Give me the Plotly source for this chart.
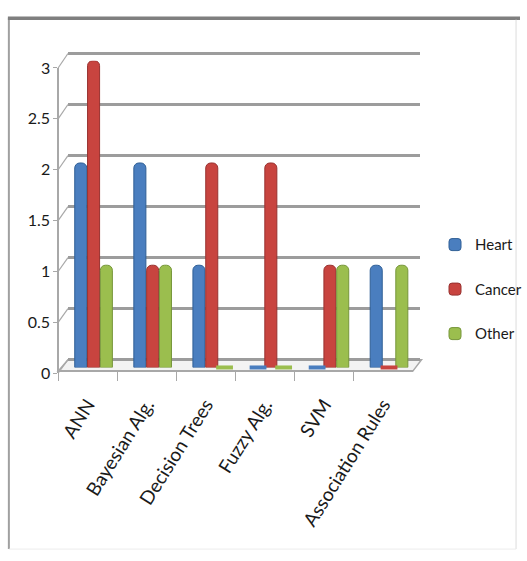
import plotly.graph_objects as go

# Data
categories = ["ANN", "Bayesian Alg.", "Decision Trees", "Fuzzy Alg.", "SVM", "Association Rules"]
heart = [2, 2, 1, 0, 0, 1]
cancer = [3, 1, 2, 2, 1, 0]
other = [1, 1, 0, 0, 1, 1]
series_names = ["Heart", "Cancer", "Other"]
y_ticks = [0, 0.5, 1, 1.5, 2, 2.5, 3]
y_tick_text = ["0", "0.5", "1", "1.5", "2", "2.5", "3"]

W, H = 527, 561
colors = ["#4a7ebf", "#c8443f", "#9bbe4e"]
edge_colors = ["#2f5f96", "#983230", "#76963a"]
FONT = "Lato, sans-serif"

BARGAP = 0.35
BARGROUPGAP = 0.06
YMAX = 3


def fx(px):
    return px / W


def fy(py):
    return 1 - py / H


def value_axis(y0_px, ytop_px, pad=0.0):
    """Domain and range for a value axis whose 0 and YMAX sit at the given pixel rows."""
    per = (y0_px - ytop_px) / YMAX
    return dict(domain=[fy(y0_px + pad * per), fy(ytop_px - pad * per)],
                range=[-pad, YMAX + pad])


# pixel layout of the three layers: front label axis, back wall grid, cylinders
LBL_X, LBL_Y0, LBL_Y3 = 58, 376, 60
GRID_X0, GRID_X1, GRID_Y0, GRID_Y3 = 68, 425, 362, 45
BAR_X0, BAR_X1, BAR_Y0, BAR_Y3 = 64, 424, 370, 52.5
CAT_X1 = 418
AXIS_Y = 374

fig = go.Figure()

# front axis subplot (category and value labels)
fig.add_trace(go.Scatter(x=categories, y=[0] * len(categories), mode="markers",
                         marker=dict(opacity=0), hoverinfo="skip", showlegend=False,
                         xaxis="x", yaxis="y"))
# back wall subplot (grid lines)
fig.add_trace(go.Scatter(x=[0, 1], y=[0, 0], mode="markers", marker=dict(opacity=0),
                         hoverinfo="skip", showlegend=False, xaxis="x2", yaxis="y2"))

# cylinders
xs = list(range(len(categories)))
slot = (1 - BARGAP) / 3
for k, (name, vals) in enumerate(zip(series_names, [heart, cancer, other])):
    fig.add_trace(go.Bar(
        x=xs, y=vals, name=name, legendgroup=name,
        marker=dict(color=colors[k], line=dict(color=edge_colors[k], width=1),
                    cornerradius=5),
        xaxis="x3", yaxis="y3",
    ))
    # flat discs for zero-height series
    zx = [i + (k - 1) * slot for i, v in zip(xs, vals) if v == 0]
    zy = [v for v in vals if v == 0]
    if zx:
        fig.add_trace(go.Scatter(
            x=zx, y=zy, mode="markers", showlegend=False, hoverinfo="skip",
            marker=dict(symbol="line-ew", size=12, line=dict(color=colors[k], width=4)),
            xaxis="x3", yaxis="y3", cliponaxis=False,
        ))

shapes = []
# floor
shapes.append(dict(type="path", xref="paper", yref="paper", layer="below",
                   path=f"M{fx(LBL_X)},{fy(AXIS_Y)} L{fx(CAT_X1)},{fy(AXIS_Y)} "
                        f"L{fx(GRID_X1 + 2)},{fy(GRID_Y0)} L{fx(GRID_X0)},{fy(GRID_Y0)} Z",
                   fillcolor="#f3f3f3", line=dict(color="#a8a8a8", width=1.5)))
# slanted connectors from front ticks to the back wall
for v in y_ticks:
    ly = LBL_Y0 + (LBL_Y3 - LBL_Y0) * v / YMAX
    gy = GRID_Y0 + (GRID_Y3 - GRID_Y0) * v / YMAX
    shapes.append(dict(type="line", xref="paper", yref="paper",
                       x0=fx(LBL_X), y0=fy(ly), x1=fx(GRID_X0), y1=fy(gy),
                       line=dict(color="#a8a8a8", width=1.2)))
# outer frame
shapes.append(dict(type="line", xref="paper", yref="paper", x0=fx(8), x1=fx(8),
                   y0=fy(8), y1=fy(558), line=dict(color="#a0a0a0", width=2)))
shapes.append(dict(type="line", xref="paper", yref="paper", x0=fx(7), x1=1,
                   y0=fy(8.5), y1=fy(8.5), line=dict(color="#7f7f7f", width=3.5)))
shapes.append(dict(type="line", xref="paper", yref="paper", x0=fx(523), x1=fx(523),
                   y0=fy(10), y1=fy(558), line=dict(color="#dcdcdc", width=1)))
shapes.append(dict(type="line", xref="paper", yref="paper", x0=fx(8), x1=fx(523),
                   y0=fy(558), y1=fy(558), line=dict(color="#ececec", width=1)))

label_axis = value_axis(LBL_Y0, LBL_Y3)
grid_axis = value_axis(GRID_Y0, GRID_Y3, pad=0.03)
bar_axis = value_axis(BAR_Y0, BAR_Y3)

fig.update_layout(
    width=W, height=H, autosize=False,
    margin=dict(l=0, r=0, t=0, b=0, pad=0),
    paper_bgcolor="white", plot_bgcolor="rgba(0,0,0,0)",
    barmode="group", bargap=BARGAP, bargroupgap=BARGROUPGAP,
    shapes=shapes,
    showlegend=True,
    legend=dict(x=fx(441), y=fy(226), xanchor="left", yanchor="top",
                font=dict(family=FONT, size=15, color="#1a1a1a"),
                tracegroupgap=22, itemwidth=30, bgcolor="rgba(0,0,0,0)"),
    xaxis=dict(domain=[fx(LBL_X), fx(CAT_X1)], type="category",
               categoryorder="array", categoryarray=categories,
               range=[-0.5, len(categories) - 0.5],
               anchor="free", position=fy(AXIS_Y),
               showline=True, linecolor="#a8a8a8", linewidth=1.5,
               ticks="outside", tickson="boundaries", ticklen=9, tickcolor="#a8a8a8",
               tickwidth=1.2, tickangle=-58, ticklabelstandoff=14,
               tickfont=dict(family=FONT, size=19, color="#1a1a1a"), showgrid=False,
               zeroline=False, fixedrange=True),
    yaxis=dict(**label_axis, tickvals=y_ticks, ticktext=y_tick_text,
               anchor="free", position=fx(LBL_X),
               showline=True, linecolor="#a8a8a8", linewidth=1.5,
               ticks="outside", ticklen=4, tickcolor="#a8a8a8",
               tickfont=dict(family=FONT, size=16, color="#1a1a1a"),
               showgrid=False, zeroline=False, fixedrange=True),
    xaxis2=dict(domain=[fx(GRID_X0), fx(GRID_X1)], range=[0, 1], anchor="y2",
                visible=False, fixedrange=True),
    yaxis2=dict(**grid_axis, anchor="x2",
                tickvals=y_ticks, showticklabels=False, ticks="",
                showgrid=True, gridcolor="#9c9c9c", gridwidth=2.5,
                zeroline=False, showline=False, fixedrange=True),
    xaxis3=dict(domain=[fx(BAR_X0), fx(BAR_X1)], range=[-0.5, len(categories) - 0.5],
                anchor="y3", visible=False, fixedrange=True),
    yaxis3=dict(**bar_axis, anchor="x3", visible=False, fixedrange=True),
)

# the page body gets no default margin so the figure fills the window exactly
fig.write_html("out.html", post_script="document.body.style.margin='0';")
